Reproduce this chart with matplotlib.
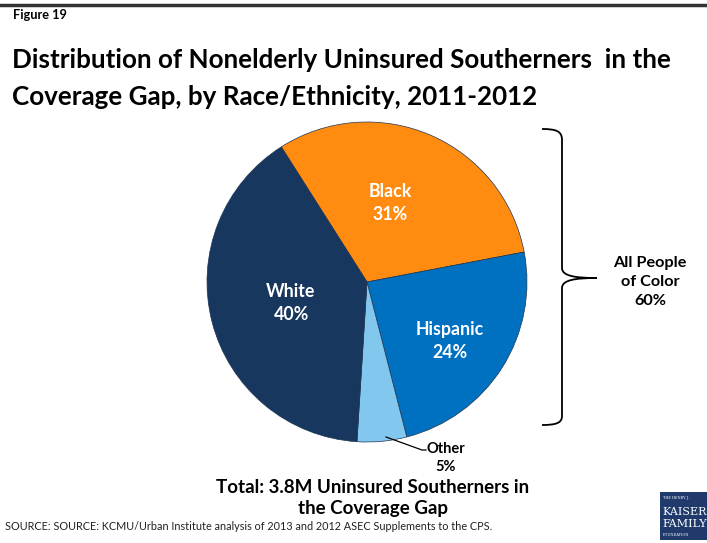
import matplotlib
matplotlib.use("Agg")
import matplotlib.pyplot as plt
from matplotlib.path import Path
from matplotlib.patches import PathPatch, Rectangle

W, H = 707, 543

groups = ["Black", "Hispanic", "Other", "White"]
shares = [31, 24, 5, 40]
colors = ["#FF8C11", "#0070C0", "#82C8EE", "#17375E"]
people_of_color = 60
total_label = "Total: 3.8M Uninsured Southerners in\nthe Coverage Gap"

plt.rcParams["font.family"] = ["Lato", "DejaVu Sans"]

fig = plt.figure(figsize=(W / 100, H / 100), dpi=100)


def fx(x):
    return x / W


def fy(y):
    return 1 - y / H


# rule across the top
fig.add_artist(plt.Line2D([0, 1], [fy(5), fy(5)], color="#333333", lw=2.5))

fig.text(fx(13), fy(15), "Figure 19", fontsize=9.2, fontweight="bold", va="center")
fig.text(fx(12), fy(60), "Distribution of Nonelderly Uninsured Southerners  in the",
         fontsize=18.7, fontweight="bold", va="center")
fig.text(fx(12), fy(97), "Coverage Gap, by Race/Ethnicity, 2011-2012",
         fontsize=18.7, fontweight="bold", va="center")

# pie
cx, cy, r = 367, 282, 160
ax = fig.add_axes([fx(cx - r), fy(cy + r), 2 * r / W, 2 * r / H])
wedges, _ = ax.pie(shares, colors=colors, startangle=122.4, counterclock=False,
                   radius=1, wedgeprops=dict(edgecolor="#1F3552", linewidth=0.5))
ax.set_xlim(-1, 1)
ax.set_ylim(-1, 1)
ax.set_aspect("auto")
ax.axis("off")

label_pos = {"Black": (390, 203), "Hispanic": (450, 341), "White": (291, 303)}
for g, s in zip(groups, shares):
    if g in label_pos:
        x, y = label_pos[g]
        fig.text(fx(x), fy(y), f"{g}\n{s}%", color="white", fontsize=12.8,
                 fontweight="bold", ha="center", va="center", linespacing=1.4)

# leader for the small slice
fig.add_artist(plt.Line2D([fx(386), fx(422), fx(426)], [fy(437), fy(450), fy(450)],
                          color="black", lw=0.9))
fig.text(fx(446), fy(458), f"Other\n{shares[2]}%", fontsize=10.5, fontweight="bold",
         ha="center", va="center", linespacing=1.35)

# curly brace spanning the people-of-color slices
verts = [(542, 129), (556, 129), (562, 131), (562, 140),
         (562, 268),
         (562, 276), (575, 278), (597, 278),
         (575, 278), (562, 280), (562, 288),
         (562, 416),
         (562, 423), (556, 425), (542, 425)]
codes = [Path.MOVETO, Path.CURVE4, Path.CURVE4, Path.CURVE4,
         Path.LINETO,
         Path.CURVE4, Path.CURVE4, Path.CURVE4,
         Path.CURVE4, Path.CURVE4, Path.CURVE4,
         Path.LINETO,
         Path.CURVE4, Path.CURVE4, Path.CURVE4]
brace = PathPatch(Path([(fx(x), fy(y)) for x, y in verts], codes),
                  transform=fig.transFigure, fill=False, lw=1.3, edgecolor="black")
fig.add_artist(brace)
fig.text(fx(650), fy(282), f"All People\nof Color\n{people_of_color}%", fontsize=11.7,
         fontweight="bold", ha="center", va="center", linespacing=1.45)

fig.text(fx(373), fy(498), total_label, fontsize=13.5, fontweight="bold",
         ha="center", va="center", linespacing=1.35)
fig.text(fx(5), fy(527),
         "SOURCE: SOURCE: KCMU/Urban Institute analysis of 2013 and 2012 ASEC Supplements to the CPS.",
         fontsize=7.8, va="center", color="#222222")

# foundation mark
fig.add_artist(Rectangle((fx(660), fy(540)), 47 / W, 48 / H, transform=fig.transFigure,
                         facecolor="#1F3A6B", edgecolor="none"))
fig.text(fx(663), fy(499), "THE HENRY J.", fontsize=2.5, color="white", family="DejaVu Serif")
fig.text(fx(662), fy(512), "KAISER", fontsize=8, color="white", family="DejaVu Serif", va="center")
fig.text(fx(662), fy(524), "FAMILY", fontsize=8, color="white", family="DejaVu Serif", va="center")
fig.text(fx(663), fy(536), "FOUNDATION", fontsize=2.5, color="white", family="DejaVu Serif")

fig.savefig("out.png", dpi=100)
